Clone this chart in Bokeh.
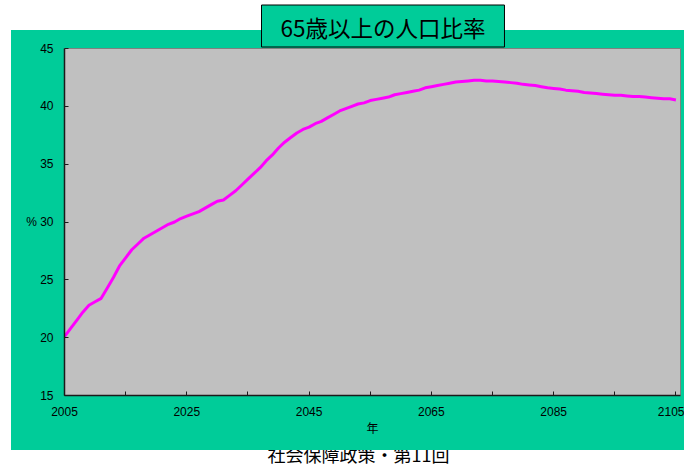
from bokeh.plotting import figure
from bokeh.models import FixedTicker, Range1d, Title, InlineStyleSheet
from bokeh.embed import file_html
from bokeh.resources import INLINE

# ---- data ----
years = list(range(2005, 2106))
ratio = [20.1, 20.8, 21.5, 22.2, 22.8, 23.1, 23.4, 24.3, 25.2, 26.2,
         26.9, 27.6, 28.1, 28.6, 28.9, 29.2, 29.5, 29.8, 30.0, 30.3,
         30.5, 30.7, 30.9, 31.2, 31.5, 31.8, 31.9, 32.3, 32.7, 33.2,
         33.7, 34.2, 34.7, 35.3, 35.8, 36.4, 36.9, 37.3, 37.7, 38.0,
         38.2, 38.5, 38.7, 39.0, 39.3, 39.6, 39.8, 40.0, 40.2, 40.3,
         40.5, 40.6, 40.7, 40.8, 41.0, 41.1, 41.2, 41.3, 41.4, 41.6,
         41.7, 41.8, 41.9, 42.0, 42.1, 42.15, 42.2, 42.25, 42.25, 42.2,
         42.2, 42.15, 42.1, 42.05, 42.0, 41.9, 41.85, 41.8, 41.7, 41.6,
         41.55, 41.5, 41.4, 41.35, 41.3, 41.2, 41.15, 41.1, 41.05, 41.0,
         40.95, 40.95, 40.9, 40.85, 40.85, 40.8, 40.75, 40.7, 40.65, 40.65,
         40.55]

title_text = "65歳以上の人口比率"
x_label = "年"
y_label = "%"
footer_text = "社会保障政策・第11回"
x_major_ticks = [2005, 2025, 2045, 2065, 2085, 2105]
x_minor_ticks = [2015, 2035, 2055, 2075, 2095]
y_ticks = [15, 20, 25, 30, 35, 40, 45]

# ---- layout ----
W, H = 684, 466
FL, FR, FT, FB = 64, 4, 48, 70
GREEN = "#00CC99"
GREY = "#C0C0C0"
NUM_FONT = "'Liberation Sans', Arial, sans-serif"
JP_FONT = "'Noto Sans CJK JP', sans-serif"

css = f"""
:host {{
  background: linear-gradient({GREEN}, {GREEN}) 11px 30px / 673px 420px no-repeat, #ffffff;
}}
:host::after {{
  content: "";
  position: absolute;
  left: 11px; top: 440px; width: 673px; height: 10px;
  background: {GREEN};
  pointer-events: none;
}}
"""

p = figure(width=W, height=H, output_backend="svg", toolbar_location=None,
           x_range=Range1d(2005, 2105.75), y_range=Range1d(15, 45),
           min_border_left=FL, min_border_right=FR,
           min_border_top=FT, min_border_bottom=FB,
           border_fill_color=None, background_fill_color=GREY,
           outline_line_color="#808080", title=None)
p.stylesheets = [InlineStyleSheet(css=css)]
p.grid.visible = False

p.line(years, ratio, line_color="#FF00FF", line_width=3)

title = Title(text=title_text, align="left", offset=197,
              text_font=JP_FONT, text_font_size="22.5px", text_font_style="normal",
              text_color="black", standoff=3,
              background_fill_color=GREEN, border_line_color="black",
              border_line_width=1,
              padding=dict(left=19, right=19, top=6, bottom=4))
p.add_layout(title, "above")

footer = Title(text=footer_text, align="left", offset=203,
               text_font=JP_FONT, text_font_size="18px", text_font_style="normal",
               text_color="black", standoff=0)
p.add_layout(footer, "below")

p.xaxis.ticker = FixedTicker(ticks=x_major_ticks, minor_ticks=x_minor_ticks)
p.yaxis.ticker = FixedTicker(ticks=y_ticks, minor_ticks=[])
p.yaxis.major_label_overrides = {30: y_label + " 30"}
for ax in (p.xaxis[0], p.yaxis[0]):
    ax.axis_line_color = "#1a1a1a"
    ax.axis_line_width = 1.5
    ax.major_tick_in = 4
    ax.major_tick_out = 0
    ax.minor_tick_in = 4
    ax.minor_tick_out = 0
    ax.major_tick_line_color = "#1a1a1a"
    ax.minor_tick_line_color = "#1a1a1a"
    ax.major_label_text_font = NUM_FONT
    ax.major_label_text_font_size = "12px"
    ax.major_label_text_color = "black"
p.yaxis.major_label_standoff = 11
p.xaxis.major_label_standoff = 11

p.xaxis.axis_label = x_label
p.xaxis.axis_label_text_font = JP_FONT
p.xaxis.axis_label_text_font_size = "12px"
p.xaxis.axis_label_text_font_style = "normal"
p.xaxis.axis_label_text_color = "black"
p.xaxis.axis_label_standoff = 0

open("out.html", "w").write(file_html(p, INLINE))
